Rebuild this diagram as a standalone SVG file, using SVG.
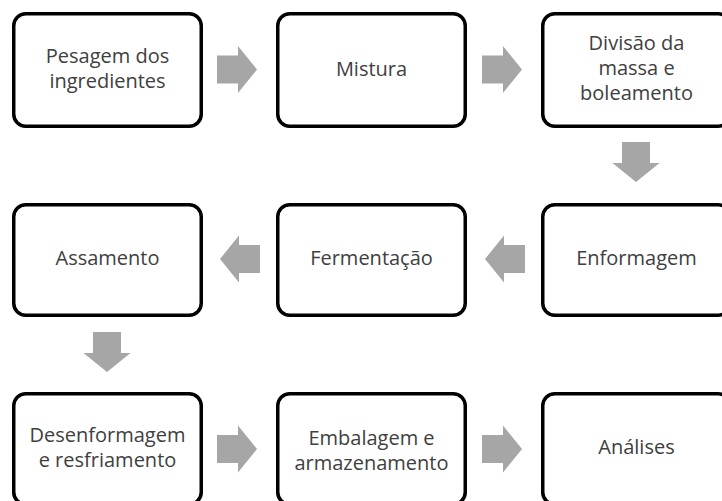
<svg xmlns="http://www.w3.org/2000/svg" xmlns:xlink="http://www.w3.org/1999/xlink" width="722" height="501" viewBox="0 0 722 501">
<style>
.box{fill:#ffffff;stroke:#000000;stroke-width:3.5}
.lbl{font-family:"Open Sans","Noto Sans","DejaVu Sans",sans-serif;font-size:20px;fill:#404040;text-anchor:middle}
.arr{fill:#a6a6a6}
</style>
<defs>
<path id="ar" d="M0,-14 H21 V-23.5 L40,0 L21,23.5 V14 H0 Z"/>
</defs>
<rect width="722" height="501" fill="#ffffff"/>
<g id="connectors" class="arr">
<use xlink:href="#ar" transform="translate(217,69.5)"/>
<use xlink:href="#ar" transform="translate(482,69.5)"/>
<use xlink:href="#ar" transform="translate(636,142) rotate(90)"/>
<use xlink:href="#ar" transform="translate(525,259) rotate(180)"/>
<use xlink:href="#ar" transform="translate(260,259) rotate(180)"/>
<use xlink:href="#ar" transform="translate(107,332) rotate(90)"/>
<use xlink:href="#ar" transform="translate(217,449)"/>
<use xlink:href="#ar" transform="translate(482,449)"/>
</g>
<g id="n1"><rect class="box" x="13.75" y="13.75" width="187.5" height="112.5" rx="12"/><text class="lbl" x="107.5"><tspan x="107.5" y="63">Pesagem dos</tspan><tspan x="107.5" y="88">ingredientes</tspan></text></g>
<g id="n2"><rect class="box" x="277.75" y="13.75" width="187.5" height="112.5" rx="12"/><text class="lbl" x="371.5" y="76">Mistura</text></g>
<g id="n3"><rect class="box" x="542.75" y="13.75" width="187.5" height="112.5" rx="12"/><text class="lbl"><tspan x="636.5" y="50">Divisão da</tspan><tspan x="636.5" y="75">massa e</tspan><tspan x="636.5" y="100">boleamento</tspan></text></g>
<g id="n4"><rect class="box" x="542.75" y="204.75" width="187.5" height="110.5" rx="12"/><text class="lbl" x="636.5" y="265">Enformagem</text></g>
<g id="n5"><rect class="box" x="277.75" y="204.75" width="187.5" height="110.5" rx="12"/><text class="lbl" x="371.5" y="265">Fermentação</text></g>
<g id="n6"><rect class="box" x="13.75" y="204.75" width="187.5" height="110.5" rx="12"/><text class="lbl" x="107.5" y="265">Assamento</text></g>
<g id="n7"><rect class="box" x="13.75" y="393.75" width="187.5" height="110.5" rx="12"/><text class="lbl"><tspan x="107.5" y="442">Desenformagem</tspan><tspan x="107.5" y="467">e resfriamento</tspan></text></g>
<g id="n8"><rect class="box" x="277.75" y="393.75" width="187.5" height="110.5" rx="12"/><text class="lbl"><tspan x="371.5" y="445">Embalagem e</tspan><tspan x="371.5" y="470">armazenamento</tspan></text></g>
<g id="n9"><rect class="box" x="542.75" y="393.75" width="187.5" height="110.5" rx="12"/><text class="lbl" x="636.5" y="454">Análises</text></g>
</svg>
